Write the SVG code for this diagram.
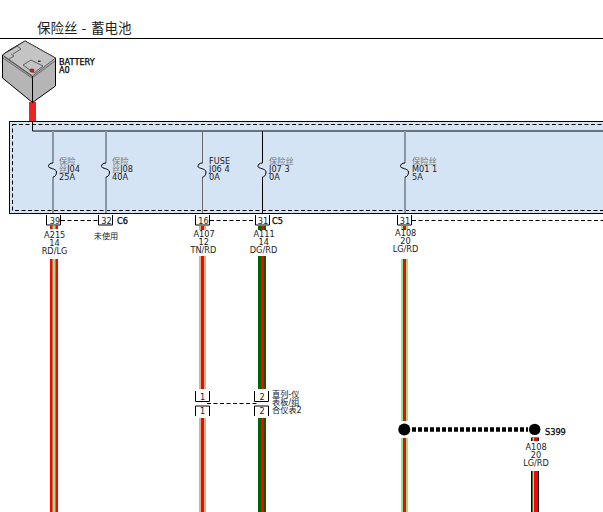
<svg xmlns="http://www.w3.org/2000/svg" width="603" height="512" viewBox="0 0 603 512">
<style>
text{font-family:"DejaVu Sans","Noto Sans CJK SC",sans-serif;font-size:8.200px;fill:#222}
.m{text-anchor:middle}
.g{fill:#777}
.b{fill:#000;stroke:#000;stroke-width:.25}
.u{fill:none;stroke:#000;stroke-width:1}
.d{fill:none;stroke:#000;stroke-width:1;stroke-dasharray:4 2.5}
.f{fill:none;stroke:#000;stroke-width:1}
.r{fill:#f00}
.lg{fill:#8de88d}
.tn{fill:#d2b48c}
.dg{fill:#006400}
</style>
<defs>
<path id="fz" d="M0 -7c-3 0 -4.500 1.500 -4.500 3.500s8 2 8 5.500s-2 5 -3.500 5" class="f"/>
</defs>
<text y="33" style="font-size:13.500px;font-family:'Noto Sans CJK SC',sans-serif"><tspan x="37">保险丝</tspan><tspan x="81.500">-</tspan><tspan x="91">蓄电池</tspan></text>
<line x1="0" y1="38.500" x2="603" y2="38.500" stroke="#000"/>
<g id="module">
<rect x="9.500" y="121.500" width="620" height="92" fill="#d4e4f5" stroke="#000"/>
<rect x="12.500" y="124.500" width="620" height="86" fill="none" stroke="#000" stroke-dasharray="4 2.500"/>
</g>
<g id="battery">
<rect x="29" y="102" width="7" height="19" fill="#ee2224"/>
<path d="M2.500 55 L8 51 L25 41 L55.500 58 L55.500 86 L32.500 102.500 L2.500 78Z" fill="#b5b5b5" stroke="#000"/>
<path d="M2.500 55 L32.500 76 L55.500 58 L25 41 L2.500 55Z" fill="#c4c4c4" stroke="#333" stroke-width=".7"/>
<path d="M32.500 76 V102.500" fill="none" stroke="#000"/>
<path d="M3 58 L32 78 L55 61 M4 56.500 L32 76.500" fill="none" stroke="#444" stroke-width=".7"/>
<path d="M9 51 L17 46 L21 49 L13 54 M11 54 L14 56 L9 59 M23 65 L31 60 L43 66 L34 73Z" fill="none" stroke="#333" stroke-width=".7"/>
<ellipse cx="32" cy="70.500" rx="2.500" ry="2" fill="#a5272c"/>
<rect x="38" y="60.500" width="2.500" height="1.500" fill="#333"/>
<text x="59" y="65" class="b">BATTERY</text><text x="59" y="72.500" class="b">A0</text>
</g>
<g id="connectors">
<path d="M32.500 121V131H603" fill="none" stroke="#000"/>
<line x1="61" y1="220.500" x2="98" y2="220.500" class="d"/>
<line x1="210" y1="220.500" x2="255" y2="220.500" class="d"/>
<line x1="412" y1="220.500" x2="603" y2="220.500" class="d"/>
<line x1="207" y1="403.500" x2="257" y2="403.500" class="d"/>
<line x1="412" y1="429.500" x2="528" y2="429.500" stroke="#000" stroke-width="4.500" stroke-dasharray="4 2"/>
</g>
<g id="fuse-j04"><path d="M53 131V213" stroke="#8a97a3" stroke-width="2"/><rect x="48" y="163" width="10" height="14" fill="#d4e4f5"/><use href="#fz" x="53" y="170"/><text x="59" y="164" class="g">保险</text><text x="59" y="172"><tspan class="g">丝</tspan>J04</text><text x="59" y="180">25A</text></g>
<g id="fuse-j08"><path d="M106 131V213" stroke="#8a97a3" stroke-width="2"/><rect x="101" y="163" width="10" height="14" fill="#d4e4f5"/><use href="#fz" x="106" y="170"/><text x="112" y="164" class="g">保险</text><text x="112" y="172"><tspan class="g">丝</tspan>J08</text><text x="112" y="180">40A</text></g>
<g id="fuse-j06"><path d="M202.500 131V213" stroke="#666"/><rect x="197" y="163" width="10" height="14" fill="#d4e4f5"/><use href="#fz" x="202.500" y="170"/><text x="209" y="164">FUSE</text><text x="209" y="172">J06 4</text><text x="209" y="180">0A</text></g>
<g id="fuse-j07"><path d="M262.500 131V213" stroke="#000"/><rect x="257" y="163" width="10" height="14" fill="#d4e4f5"/><use href="#fz" x="262.500" y="170"/><text x="269" y="164" class="g">保险丝</text><text x="269" y="172">J07 3</text><text x="269" y="180">0A</text></g>
<g id="fuse-m01"><path d="M405 131V213" stroke="#8a97a3" stroke-width="2"/><rect x="400" y="163" width="10" height="14" fill="#d4e4f5"/><use href="#fz" x="405" y="170"/><text x="412" y="164" class="g">保险丝</text><text x="412" y="172">M01 1</text><text x="412" y="180">5A</text></g>
<g id="c39"><path d="M46.500 215V225H60.500V215" class="u"/><text x="55" y="224" class="m">39</text><rect x="50" y="225.500" width="8" height="3.500" class="r"/><rect x="52.500" y="225.500" width="3" height="3.500" class="lg"/><text x="54.700" y="238" class="m">A215</text><text x="54.500" y="246" class="m">14</text><text x="54.500" y="254" class="m">RD/LG</text></g>
<g id="c32"><path d="M98.500 215V225H112.500V215" class="u"/><text x="106.500" y="224" class="m">32</text><text x="117" y="224" class="b">C6</text><text x="106" y="238.500" class="m">未使用</text></g>
<g id="c16"><path d="M195.500 215V225H209.500V215" class="u"/><text x="203.500" y="224" class="m">16</text><rect x="199" y="226" width="7" height="4" class="tn"/><rect x="201" y="226" width="3" height="4" class="r"/><text x="204" y="237" class="m">A107</text><text x="203.700" y="245" class="m">12</text><text x="203.400" y="253" class="m">TN/RD</text></g>
<g id="c31a"><path d="M255.500 215V225H269.500V215" class="u"/><text x="263" y="224" class="m">31</text><rect x="258" y="226" width="8" height="4" class="dg"/><rect x="261" y="226" width="3" height="4" class="r"/><text x="272" y="224" class="b">C5</text><text x="264" y="237" class="m">A111</text><text x="263.700" y="245" class="m">14</text><text x="263.500" y="253" class="m">DG/RD</text></g>
<g id="c31b"><path d="M397.500 215V225H411.500V215" class="u"/><text x="405" y="224" class="m">31</text><rect x="401" y="226" width="7" height="4" class="lg"/><rect x="403" y="226" width="3" height="4" class="r"/><text x="405.700" y="236" class="m">A108</text><text x="405.500" y="244" class="m">20</text><text x="405.500" y="252" class="m">LG/RD</text></g>
<g id="wire-a215"><rect x="50" y="259" width="8" height="253" class="r"/><rect x="52.500" y="259" width="3" height="253" class="lg"/></g>
<g id="wire-a107"><rect x="199" y="256" width="7" height="133" class="tn"/><rect x="201" y="256" width="3" height="133" class="r"/><rect x="199" y="418" width="7" height="94" class="tn"/><rect x="201" y="418" width="3" height="94" class="r"/></g>
<g id="wire-a111"><rect x="258" y="256" width="8" height="133" class="dg"/><rect x="261" y="256" width="3" height="133" class="r"/><rect x="258" y="418" width="8" height="94" class="dg"/><rect x="261" y="418" width="3" height="94" class="r"/></g>
<g id="wire-a108"><rect x="401" y="259" width="7" height="162" class="lg"/><rect x="403" y="259" width="3" height="162" class="r"/><rect x="401" y="438" width="7" height="74" class="lg"/><rect x="403" y="438" width="3" height="74" class="r"/></g>
<g id="pair-1"><path d="M195.500 391V401.500H209.500V391M195.500 416V406H209.500V416" class="u"/><text x="202.700" y="400" class="m">1</text><text x="202.700" y="414" class="m">1</text></g>
<g id="pair-2"><path d="M254.500 391V401.500H268.500V391M254.500 416V406H268.500V416" class="u"/><text x="262" y="400" class="m">2</text><text x="262" y="414" class="m">2</text><text x="272" y="397">直列-仪</text><text x="272" y="404.500">表板/组</text><text x="272" y="412.500">合仪表2</text></g>
<g id="s399-left"><circle cx="404.300" cy="429.400" r="6" fill="#000"/></g>
<g id="s399"><circle cx="534.700" cy="429.400" r="5.700" fill="#000"/><text x="545" y="434.500" class="b">S399</text><rect x="531" y="437.500" width="8" height="3.500" fill="#000"/><rect x="532.500" y="437.500" width="5.500" height="3.500" class="lg"/><rect x="534" y="437.500" width="4" height="3.500" class="r"/><text x="536" y="449.500" class="m">A108</text><text x="536" y="457.500" class="m">20</text><text x="536" y="465.500" class="m">LG/RD</text><rect x="531" y="471" width="8" height="41" fill="#000"/><rect x="532.500" y="471" width="5.500" height="41" class="lg"/><rect x="534" y="471" width="4" height="41" class="r"/></g>
</svg>
